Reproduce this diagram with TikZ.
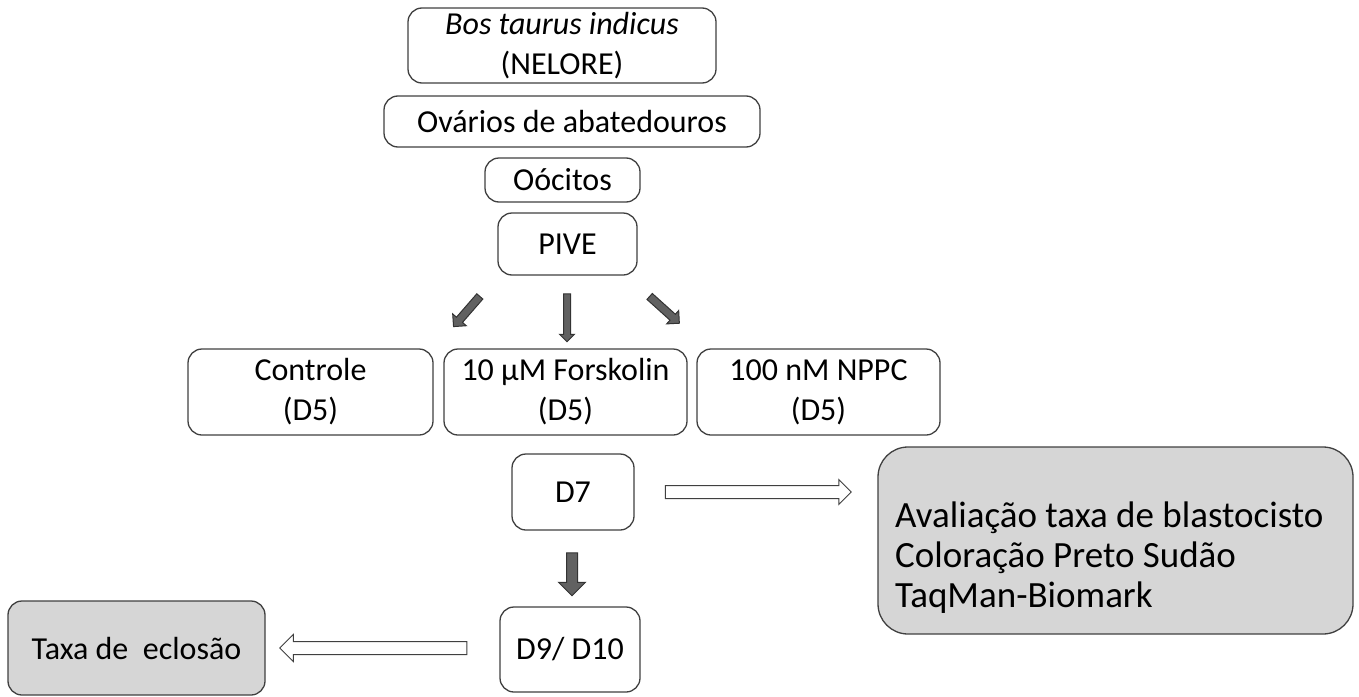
\documentclass[tikz,border=0pt]{standalone}
\usepackage{fontspec}
\setmainfont{Carlito}
\usetikzlibrary{shapes.arrows}
\tikzset{
  box/.style={draw=black!75, line width=1.3pt, rounded corners=14pt, fill=white, inner sep=0pt, align=center, font=\fontsize{32}{40}\selectfont},
  graybox/.style={box, fill=black!16},
  solidarrow/.style={single arrow, draw=black!80, fill=black!62, line width=1pt, inner sep=0pt, single arrow tip angle=90},
  openarrow/.style={single arrow, draw=black!75, fill=white, line width=1pt, inner sep=0pt, single arrow tip angle=90},
}
\begin{document}
\begin{tikzpicture}[x=1pt,y=-1pt]
\useasboundingbox (0,0) rectangle (1359,696);
\node[box, minimum width=308pt, minimum height=75pt] (bos) at (562,45.5) {\textit{Bos taurus indicus}\\(NELORE)};
\node[box, minimum width=376pt, minimum height=51pt] (ova) at (572,121.5) {Ovários de abatedouros};
\node[box, minimum width=155pt, minimum height=44pt] (ooc) at (562.5,180) {Oócitos};
\node[box, minimum width=139pt, minimum height=62pt] (pive) at (567.5,244) {PIVE};
\node[box, minimum width=245pt, minimum height=86pt] (ctrl) at (310.5,392) {Controle\\(D5)};
\node[box, minimum width=243pt, minimum height=86pt] (fsk) at (565.5,392) {10 µM Forskolin\\(D5)};
\node[box, minimum width=243pt, minimum height=86pt] (nppc) at (818.5,392) {100 nM NPPC\\(D5)};
\node[box, minimum width=122pt, minimum height=76pt] (d7) at (573,492) {D7};
\node[graybox, rounded corners=30pt, minimum width=475pt, minimum height=187pt] (aval) at (1115.5,540.5) {};
\node[align=left, inner sep=0pt, anchor=west, font=\fontsize{37}{40}\selectfont] (avaltxt) at (895,558) {Avaliação taxa de blastocisto\\Coloração Preto Sudão\\TaqMan-Biomark};
\node[box, minimum width=140pt, minimum height=85pt] (d9) at (570,649.5) {D9/ D10};
\node[graybox, minimum width=257pt, minimum height=94pt] (taxa) at (136.5,648) {Taxa de \ eclosão};
% block arrows
\node[solidarrow, minimum height=40pt, minimum width=17pt, inner ysep=3.5pt, single arrow head extend=5pt, rotate=229] (a1) at (468,310) {};
\node[solidarrow, minimum height=48pt, minimum width=14pt, inner ysep=3pt, single arrow head extend=4pt, rotate=270] (a2) at (567,316) {};
\node[solidarrow, minimum height=40pt, minimum width=17pt, inner ysep=3.5pt, single arrow head extend=5pt, rotate=-42] (a3) at (663,308.5) {};
\node[solidarrow, minimum height=43pt, minimum width=26pt, inner ysep=5pt, single arrow head extend=8pt, rotate=270] (a4) at (572,571.5) {};
\node[openarrow, minimum height=186pt, minimum width=24pt, inner ysep=6pt, single arrow head extend=6pt] (a5) at (755,492) {};
\node[openarrow, minimum height=187pt, minimum width=26pt, inner ysep=6pt, single arrow head extend=7pt, rotate=180] (a6) at (376.5,648) {};
\end{tikzpicture}
\end{document}
